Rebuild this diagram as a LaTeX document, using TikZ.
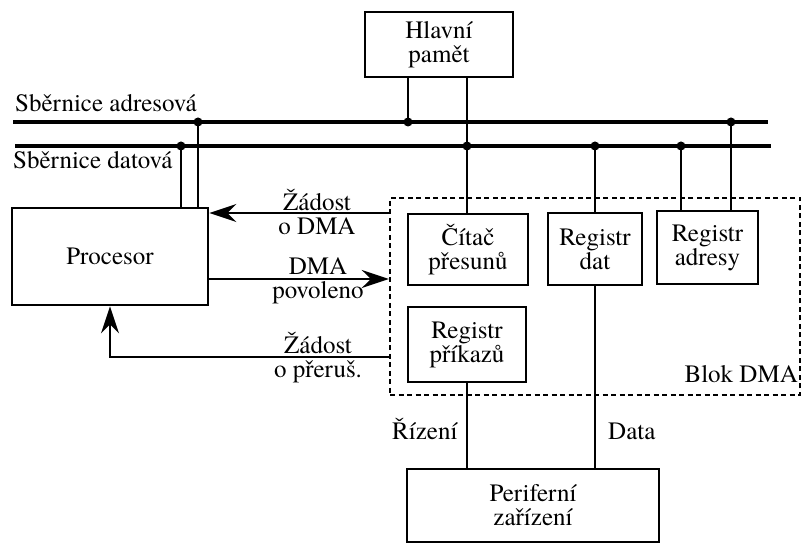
\documentclass[tikz,border=0pt]{standalone}
\usepackage{fontspec}
\setmainfont{TeX Gyre Termes}
\usetikzlibrary{arrows.meta,calc}
\newcommand{\dmafont}{\fontsize{25}{24}\selectfont}
\begin{document}
\begin{tikzpicture}[x=1pt,y=-1pt,
  box/.style={draw,line width=2.8pt,inner sep=0pt,align=center,font=\dmafont},
  lbl/.style={inner sep=0pt,align=center,font=\dmafont},
  wire/.style={line width=2.4pt},
  bus/.style={line width=4.6pt},
  sig/.style={line width=2.4pt,-{Stealth[length=27pt,width=18pt,inset=9pt]}},
  tap/.style={circle,fill,inner sep=0pt,minimum size=9pt}]
\useasboundingbox (0,0) rectangle (804,545);

% blocks
\node[box,minimum width=148pt,minimum height=65pt] (mem) at (439,44.5) {Hlavní\\pamět};
\node[box,minimum width=196pt,minimum height=97pt] (proc) at (110,256.5) {Procesor};
\node[draw,dashed,dash pattern=on 5pt off 3.5pt,line width=2.4pt,inner sep=0pt,
      minimum width=410pt,minimum height=197pt] (blok) at (595,296.5) {};
\node[box,minimum width=120pt,minimum height=71pt] (cit) at (468,249.5) {Čítač\\přesunů};
\node[box,minimum width=94pt,minimum height=72pt] (rdat) at (595,249) {Registr\\dat};
\node[box,minimum width=101pt,minimum height=73pt] (radr) at (707.5,247.5) {Registr\\adresy};
\node[box,minimum width=118pt,minimum height=75pt] (rpri) at (467,344.5) {Registr\\příkazů};
\node[box,minimum width=252pt,minimum height=73pt] (per) at (533,505.5) {Periferní\\zařízení};

% buses
\coordinate (abL) at (13,122);  \coordinate (abR) at (768,122);
\coordinate (dbL) at (15,146);  \coordinate (dbR) at (771,146);
\draw[bus] (abL) -- (abR);
\draw[bus] (dbL) -- (dbR);
\node[lbl,anchor=base west] (abtxt) at (15,112) {Sběrnice adresová};
\node[lbl,anchor=base west] (dbtxt) at (13,169) {Sběrnice datová};

% bus taps
\node[tap] (t1) at (408,122) {};
\node[tap] (t2) at (467,146) {};
\node[tap] (t3) at (595,146) {};
\node[tap] (t4) at (681,146) {};
\node[tap] (t5) at (731,122) {};
\node[tap] (t6) at (198,122) {};
\node[tap] (t7) at (181,146) {};

% bus connections
\draw[wire] (mem.south -| t1) -- (t1.center);
\draw[wire] (mem.south -| t2) -- (cit.north -| t2);
\draw[wire] (t3.center) -- (rdat.north -| t3);
\draw[wire] (t4.center) -- (radr.north -| t4);
\draw[wire] (t5.center) -- (radr.north -| t5);
\draw[wire] (t6.center) -- (proc.north -| t6);
\draw[wire] (t7.center) -- (proc.north -| t7);

% peripheral connections
\draw[wire] (rdat.south) -- (per.north -| rdat.south);
\draw[wire] (rpri.south) -- (per.north -| rpri.south);
\node[lbl,anchor=base west] (riz) at (392,439) {Řízení};
\node[lbl,anchor=base west] (dat) at (608,439) {Data};

% control signals
\coordinate (req) at (proc.east |- 0,213);
\coordinate (ack) at (proc.east |- 0,279);
\coordinate (irq) at (blok.west |- 0,357);
\coordinate (irqc) at (110,357);
\draw[sig] (blok.west |- req) -- (req);
\draw[sig] (ack) -- (blok.west |- ack);
\draw[sig] (irq) -- (irqc) -- (proc.south -| irqc);
\node[lbl] (reqtxt) at (317,212) {Žádost\\o DMA};
\node[lbl] (acktxt) at (318,281) {DMA\\povoleno};
\node[lbl] (irqtxt) at (318,358) {Žádost\\o přeruš.};
\node[lbl,anchor=base east] (bloktxt) at (798,383) {Blok DMA};
\end{tikzpicture}
\end{document}
